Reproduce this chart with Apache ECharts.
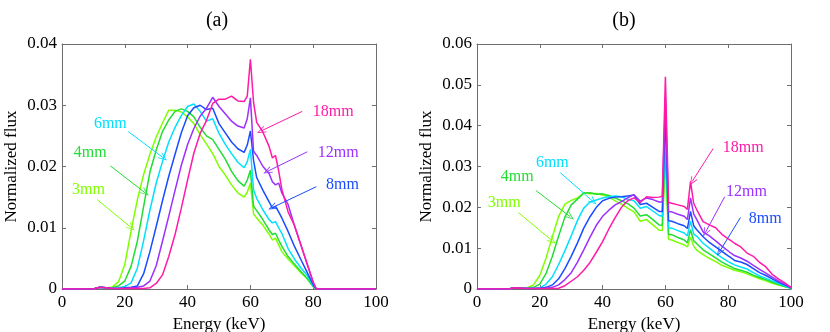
<!DOCTYPE html>
<html>
<head>
<meta charset="utf-8">
<script src="https://cdn.jsdelivr.net/npm/echarts@6/dist/echarts.min.js"></script>
<style>
  html, body { margin: 0; background: #fff; }
  #chart { width: 830px; height: 332px; }
</style>
</head>
<body>
<div id="chart"></div>
<script>
// energy bins (keV), shared by both panels
const energy = [0, 10, 12, 14, 16, 18, 20, 22, 24, 26, 28, 30, 32, 34, 36, 38, 40, 42, 44, 46,
  48, 50, 52, 54, 56, 58, 59, 60, 61, 62, 64, 66, 67, 68, 69, 70, 72, 74, 76, 78,
  80, 81, 82, 84, 86, 88, 90, 92, 94, 96, 98, 100];

// normalized flux, in units of 1e-3
// panel (a)
const a3mm = [0, 0, 0.3, 0.2, 0.3, 1.2, 4.0, 9.5, 14.6, 18.7, 22.0, 24.8, 27.1, 29.2, 29.2, 28.9, 28.1, 27.0, 25.2, 23.7,
  22.1, 20.0, 18.6, 17.0, 15.7, 15.0, 15.8, 17.3, 12.3, 11.6, 10.4, 8.9, 8.0, 8.3, 7.2, 6.1, 4.9, 3.8, 2.7, 1.7,
  0.4, 0, 0, 0, 0, 0, 0, 0, 0, 0, 0, 0];
const a4mm = [0, 0, 0.3, 0.2, 0.2, 0.5, 1.3, 3.7, 7.8, 13.5, 19.1, 22.7, 25.7, 27.6, 29.0, 29.4, 29.0, 28.1, 26.4, 25.0,
  24.4, 22.8, 21.2, 19.2, 17.7, 16.8, 17.8, 19.4, 13.5, 12.8, 11.3, 9.6, 8.9, 9.1, 8.0, 7.0, 5.3, 4.1, 2.9, 1.8,
  0.4, 0, 0, 0, 0, 0, 0, 0, 0, 0, 0, 0];
const a6mm = [0, 0, 0.3, 0.2, 0.1, 0.2, 0.4, 1.0, 3.4, 7.9, 12.9, 17.3, 20.8, 24.0, 26.4, 28.3, 29.8, 30.2, 29.0, 27.4,
  27.8, 25.4, 23.6, 22.1, 20.7, 19.8, 20.8, 22.8, 16.2, 14.8, 12.9, 11.3, 10.8, 11.0, 10.0, 9.1, 6.6, 4.9, 3.5, 2.3,
  0.5, 0, 0, 0, 0, 0, 0, 0, 0, 0, 0, 0];
const a8mm = [0, 0, 0.3, 0.2, 0.1, 0.1, 0.2, 0.3, 0.5, 2.5, 6.1, 10.2, 14.4, 18.4, 22.0, 25.5, 28.3, 29.6, 30.0, 29.3,
  29.5, 27.0, 25.5, 24.0, 22.9, 22.3, 23.5, 25.8, 21.0, 18.2, 16.1, 14.2, 13.2, 13.5, 12.6, 11.6, 9.4, 7.0, 4.9, 2.8,
  0.7, 0, 0, 0, 0, 0, 0, 0, 0, 0, 0, 0];
const a12mm = [0, 0, 0.3, 0.2, 0.1, 0.1, 0.1, 0.2, 0.3, 0.5, 1.3, 3.8, 7.8, 11.9, 16.1, 20.2, 23.6, 26.2, 28.2, 29.5,
  31.3, 29.8, 28.6, 27.4, 26.6, 26.3, 27.8, 31.2, 22.5, 21.8, 20.0, 18.8, 17.5, 17.0, 17.3, 15.7, 13.8, 10.4, 7.3, 4.2,
  1.1, 0, 0, 0, 0, 0, 0, 0, 0, 0, 0, 0];
const a18mm = [0, 0, 0.3, 0.2, 0.1, 0.1, 0.1, 0.1, 0.1, 0.1, 0.2, 0.9, 2.3, 5.3, 8.9, 13.2, 17.8, 22.2, 25.4, 27.5,
  30.3, 31.0, 31.0, 31.5, 30.7, 30.6, 31.5, 37.5, 30.5, 27.2, 25.6, 23.2, 21.4, 21.8, 19.3, 16.3, 12.6, 10.4, 7.3, 4.2,
  1.1, 0, 0, 0, 0, 0, 0, 0, 0, 0, 0, 0];

// panel (b)
const b3mm = [0, 0, 0.3, 0.2, 0.3, 1.0, 3.3, 7.6, 12.8, 17.8, 20.8, 21.7, 22.3, 23.5, 23.3, 23.4, 23.0, 22.6, 21.6, 20.8,
  19.8, 18.9, 16.6, 17.0, 15.7, 14.4, 14.3, 32.0, 12.2, 12.0, 11.4, 10.8, 10.3, 12.7, 10.5, 9.5, 8.4, 7.5, 6.7, 5.8,
  5.2, 4.9, 4.6, 4.2, 3.7, 3.1, 2.5, 2.0, 1.4, 1.0, 0.6, 0.2];
const b4mm = [0, 0, 0.3, 0.2, 0.2, 0.4, 1.2, 3.8, 8.0, 13.0, 17.6, 20.6, 22.0, 23.5, 23.6, 23.2, 23.3, 22.9, 22.3, 21.6,
  20.9, 19.8, 17.9, 18.2, 17.0, 15.7, 15.6, 34.5, 13.4, 13.3, 12.6, 12.0, 11.3, 14.5, 11.8, 11.1, 9.6, 8.6, 7.6, 6.6,
  5.8, 5.4, 5.0, 4.6, 4.1, 3.4, 2.8, 2.3, 1.7, 1.1, 0.6, 0.2];
const b6mm = [0, 0, 0.3, 0.2, 0.1, 0.2, 0.3, 1.2, 3.0, 6.0, 9.4, 13.0, 16.8, 19.8, 21.3, 21.8, 22.3, 22.6, 22.8, 22.6,
  22.0, 21.6, 19.8, 20.2, 19.1, 18.0, 17.8, 39.0, 15.0, 14.9, 14.3, 13.7, 13.0, 16.6, 13.5, 12.9, 11.2, 10.0, 8.8, 7.7,
  6.7, 6.3, 5.9, 5.4, 4.9, 4.0, 3.2, 2.6, 2.0, 1.4, 0.8, 0.2];
const b8mm = [0, 0, 0.3, 0.2, 0.1, 0.1, 0.2, 0.4, 1.0, 2.5, 5.0, 8.0, 11.3, 14.9, 17.7, 20.0, 21.6, 22.2, 22.5, 22.6,
  22.8, 23.0, 20.7, 21.0, 20.0, 19.0, 19.0, 42.5, 16.7, 16.6, 16.0, 15.5, 14.8, 19.0, 15.5, 14.5, 12.8, 11.4, 10.3, 9.2,
  8.1, 7.6, 7.0, 6.6, 6.0, 5.0, 4.0, 3.3, 2.5, 1.7, 1.0, 0.3];
const b12mm = [0, 0, 0.3, 0.2, 0.1, 0.1, 0.1, 0.2, 0.4, 1.0, 2.3, 4.0, 6.6, 9.6, 12.7, 15.6, 17.8, 19.3, 20.6, 21.4,
  22.3, 23.1, 21.5, 22.3, 21.9, 21.3, 21.3, 47.0, 19.0, 18.9, 18.3, 17.8, 17.0, 22.3, 18.4, 17.0, 14.0, 13.0, 11.8, 10.5,
  9.3, 8.7, 8.2, 7.6, 6.8, 5.8, 4.8, 3.9, 2.9, 2.0, 1.2, 0.4];
const b18mm = [0, 0, 0.3, 0.2, 0.1, 0.1, 0.1, 0.1, 0.1, 0.2, 0.8, 1.9, 3.0, 4.6, 6.5, 9.0, 11.6, 14.7, 17.5, 20.0,
  21.6, 22.3, 21.2, 22.6, 22.4, 22.5, 22.7, 52.0, 21.2, 21.0, 20.6, 20.2, 19.5, 26.3, 21.0, 19.4, 16.5, 15.7, 15.0, 13.4,
  12.3, 11.8, 11.2, 10.3, 8.8, 8.0, 6.5, 5.4, 3.6, 2.5, 1.5, 0.4];

const names = ["3mm", "4mm", "6mm", "8mm", "12mm", "18mm"];
const panelA = [a3mm, a4mm, a6mm, a8mm, a12mm, a18mm];
const panelB = [b3mm, b4mm, b6mm, b8mm, b12mm, b18mm];
const colors = ["#7fff00", "#22dd33", "#00e0ff", "#1a4cff", "#9b30ff", "#ff1aa8"];

// annotation placement: label point and arrow [from, to], in data units (keV, flux)
const notesA = {
  "3mm": { label: [8.4, 0.0162], arrow: [[11.2, 0.0146], [22.1, 0.0100]] },
  "4mm": { label: [9.0, 0.0223], arrow: [[15.4, 0.0201], [26.5, 0.0157]] },
  "6mm": { label: [15.4, 0.0270], arrow: [[21.1, 0.0257], [32.3, 0.0214]] },
  "8mm": { label: [89.3, 0.0170], arrow: [[81.0, 0.0167], [67.0, 0.0133]] },
  "12mm": { label: [88.0, 0.0223], arrow: [[78.1, 0.0224], [65.4, 0.0192]] },
  "18mm": { label: [86.4, 0.0290], arrow: [[76.5, 0.0290], [63.4, 0.0258]] },
};
const notesB = {
  "3mm": { label: [8.7, 0.0211], arrow: [[13.2, 0.0187], [24.0, 0.0118]] },
  "4mm": { label: [12.8, 0.0275], arrow: [[18.8, 0.0241], [29.7, 0.0177]] },
  "6mm": { label: [24.0, 0.0309], arrow: [[26.5, 0.0285], [37.0, 0.0214]] },
  "8mm": { label: [91.8, 0.0172], arrow: [[83.9, 0.0175], [77.2, 0.0091]] },
  "12mm": { label: [85.8, 0.0238], arrow: [[78.9, 0.0226], [72.7, 0.0138]] },
  "18mm": { label: [84.8, 0.0346], arrow: [[75.2, 0.0344], [68.5, 0.0263]] },
};

const FONT = "Liberation Serif";
const AXIS_COLOR = "#6e6e6e";
const chevron = "path://M5,0 L10,10 L8.8,10 L5,2.4 L1.2,10 L0,10 Z";

const grids = [
  { left: 62, top: 44, width: 314, height: 245, containLabel: false, outerBoundsMode: "none" },
  { left: 477, top: 44, width: 314, height: 245, containLabel: false, outerBoundsMode: "none" },
];

function makeAxes(gi, yMax) {
  const tick = { show: true, inside: true, length: 4, lineStyle: { color: AXIS_COLOR } };
  const line = { show: true, onZero: false, lineStyle: { color: AXIS_COLOR, width: 1 } };
  const label = { color: "#000", fontFamily: FONT, fontSize: 17 };
  const x = [
    {
      type: "value", gridIndex: gi, min: 0, max: 100, interval: 20, position: "bottom",
      name: "Energy (keV)", nameLocation: "middle", nameGap: 21,
      nameTextStyle: { color: "#000", fontFamily: FONT, fontSize: 17 },
      axisLine: line, axisTick: tick, splitLine: { show: false },
      axisLabel: Object.assign({ margin: 5 }, label),
    },
    {
      type: "value", gridIndex: gi, min: 0, max: 100, interval: 20, position: "top",
      axisLine: line, axisTick: tick, splitLine: { show: false }, axisLabel: { show: false },
    },
  ];
  const y = [
    {
      type: "value", gridIndex: gi, min: 0, max: yMax, interval: 0.01, position: "left",
      name: "Normalized flux", nameLocation: "middle", nameGap: 42,
      nameTextStyle: { color: "#000", fontFamily: FONT, fontSize: 17 },
      axisLine: line, axisTick: tick, splitLine: { show: false },
      axisLabel: Object.assign({ margin: 5 }, label),
    },
    {
      type: "value", gridIndex: gi, min: 0, max: yMax, interval: 0.01, position: "right",
      axisLine: line, axisTick: tick, splitLine: { show: false }, axisLabel: { show: false },
    },
  ];
  return { x, y };
}

const axA = makeAxes(0, 0.04);
const axB = makeAxes(1, 0.06);

function panelSeries(arrays, notes, axisIndex) {
  return arrays.map((arr, k) => {
    const name = names[k];
    const note = notes[name];
    return {
      name: name,
      type: "line",
      xAxisIndex: axisIndex,
      yAxisIndex: axisIndex,
      showSymbol: false,
      smooth: false,
      lineStyle: { color: colors[k], width: 1.5 },
      itemStyle: { color: colors[k] },
      data: energy.map((e, i) => [e, arr[i] / 1000]),
      markLine: {
        silent: true,
        animation: false,
        symbol: ["none", chevron],
        symbolSize: [7, 9],
        label: { show: false },
        lineStyle: { color: colors[k], width: 1, type: "solid" },
        data: [[{ coord: note.arrow[0] }, { coord: note.arrow[1] }]],
      },
      markPoint: {
        silent: true,
        animation: false,
        symbol: "circle",
        symbolSize: 0,
        label: {
          show: true, position: "inside", formatter: "{b}",
          color: colors[k], fontFamily: FONT, fontSize: 16,
        },
        data: [{ name: name, coord: note.label }],
      },
    };
  });
}

const chart = echarts.init(document.getElementById("chart"), null, { renderer: "canvas" });

const option = {
  animation: false,
  backgroundColor: "#fff",
  grid: grids,
  xAxis: [...axA.x, ...axB.x],
  yAxis: [...axA.y, ...axB.y],
  graphic: [
    { type: "text", x: 217, y: 21, style: { text: "(a)", font: "20px " + FONT, fill: "#000", textAlign: "center", textVerticalAlign: "middle" } },
    { type: "text", x: 624, y: 21, style: { text: "(b)", font: "20px " + FONT, fill: "#000", textAlign: "center", textVerticalAlign: "middle" } },
  ],
  series: [
    // panel (a) uses axes 0 (bottom/left); panel (b) uses axes 2
    ...panelSeries(panelA, notesA, 0),
    ...panelSeries(panelB, notesB, 2),
  ],
};

chart.setOption(option);
</script>
</body>
</html>
